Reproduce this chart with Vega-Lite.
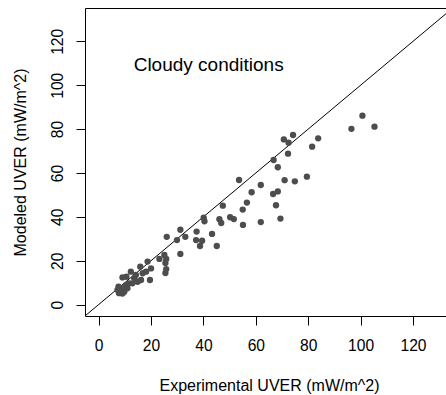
{
  "$schema": "https://vega.github.io/schema/vega-lite/v6.json",
  "autosize": {"type": "none"},
  "padding": {"left": 85, "top": 8, "right": 0, "bottom": 79},
  "width": 361,
  "height": 308,
  "background": "white",
  "config": {
    "view": {"stroke": null},
    "font": "Liberation Sans",
    "axis": {
      "domainColor": "black",
      "tickColor": "black",
      "labelColor": "black",
      "titleColor": "black",
      "labelFont": "Liberation Sans",
      "titleFont": "Liberation Sans",
      "labelFontSize": 15.6,
      "titleFontSize": 16,
      "titleFontWeight": "normal",
      "tickSize": 9,
      "grid": false
    }
  },
  "datasets": {
    "pts": [
      {"exp": 100.7, "mod": 86.1}, {"exp": 96.5, "mod": 80.1}, {"exp": 105.3, "mod": 81.1},
      {"exp": 70.7, "mod": 75.3}, {"exp": 74.2, "mod": 77.3}, {"exp": 72.5, "mod": 73.8},
      {"exp": 83.8, "mod": 75.8}, {"exp": 81.5, "mod": 72.0}, {"exp": 72.3, "mod": 68.8},
      {"exp": 66.8, "mod": 65.9}, {"exp": 68.4, "mod": 62.6}, {"exp": 53.6, "mod": 56.8},
      {"exp": 61.9, "mod": 54.5}, {"exp": 71.0, "mod": 56.7}, {"exp": 74.9, "mod": 56.2},
      {"exp": 79.5, "mod": 58.3}, {"exp": 58.4, "mod": 51.2}, {"exp": 66.6, "mod": 50.4},
      {"exp": 68.4, "mod": 51.6}, {"exp": 47.4, "mod": 45.1}, {"exp": 56.6, "mod": 46.5},
      {"exp": 55.0, "mod": 43.3}, {"exp": 67.7, "mod": 45.3}, {"exp": 40.1, "mod": 39.6},
      {"exp": 40.4, "mod": 38.0}, {"exp": 46.1, "mod": 38.9}, {"exp": 46.8, "mod": 37.2},
      {"exp": 50.2, "mod": 39.8}, {"exp": 51.6, "mod": 39.0}, {"exp": 69.4, "mod": 39.2},
      {"exp": 55.1, "mod": 36.3}, {"exp": 61.9, "mod": 37.6}, {"exp": 31.2, "mod": 34.1},
      {"exp": 37.4, "mod": 33.3}, {"exp": 26.0, "mod": 30.9}, {"exp": 29.9, "mod": 29.4},
      {"exp": 33.1, "mod": 30.9}, {"exp": 37.2, "mod": 29.4}, {"exp": 39.5, "mod": 29.1},
      {"exp": 38.7, "mod": 26.7}, {"exp": 43.3, "mod": 32.2}, {"exp": 45.1, "mod": 26.7},
      {"exp": 31.2, "mod": 23.1}, {"exp": 25.1, "mod": 22.6}, {"exp": 23.2, "mod": 20.8},
      {"exp": 25.8, "mod": 20.8}, {"exp": 25.5, "mod": 19.0}, {"exp": 25.8, "mod": 16.2},
      {"exp": 25.5, "mod": 14.4}, {"exp": 18.7, "mod": 19.6}, {"exp": 20.0, "mod": 16.5},
      {"exp": 15.9, "mod": 17.3}, {"exp": 12.3, "mod": 15.0}, {"exp": 9.1, "mod": 12.4},
      {"exp": 14.2, "mod": 13.5}, {"exp": 16.8, "mod": 14.3}, {"exp": 18.1, "mod": 15.0},
      {"exp": 19.6, "mod": 11.2}, {"exp": 16.2, "mod": 11.2}, {"exp": 14.9, "mod": 10.4},
      {"exp": 12.9, "mod": 9.7}, {"exp": 10.4, "mod": 8.9}, {"exp": 7.6, "mod": 8.2},
      {"exp": 9.1, "mod": 7.4}, {"exp": 7.2, "mod": 6.7}, {"exp": 7.8, "mod": 5.2},
      {"exp": 9.8, "mod": 5.9}, {"exp": 11.0, "mod": 7.4}, {"exp": 11.7, "mod": 9.7},
      {"exp": 13.6, "mod": 12.0}, {"exp": 10.6, "mod": 12.7}, {"exp": 9.1, "mod": 5.0}
    ],
    "diag": [{"exp": -10, "mod": -10}, {"exp": 140, "mod": 140}],
    "note": [{"exp": 42, "mod": 109.2, "label": "Cloudy conditions"}]
  },
  "layer": [
    {
      "data": {"name": "diag"},
      "mark": {"type": "line", "color": "black", "strokeWidth": 1, "clip": true},
      "encoding": {
        "x": {"field": "exp", "type": "quantitative", "scale": {"domain": [-5.2, 132.6], "nice": false, "zero": false},
              "axis": {"orient": "top", "labels": false, "ticks": false, "title": null, "domain": true}},
        "y": {"field": "mod", "type": "quantitative", "scale": {"domain": [-5.2, 135.2], "nice": false, "zero": false}}
      }
    },
    {
      "data": {"name": "pts"},
      "mark": {"type": "point", "filled": true, "color": "#4d4d4d", "opacity": 1, "size": 40, "clip": true},
      "encoding": {
        "x": {"field": "exp", "type": "quantitative",
              "axis": {"orient": "bottom", "values": [0, 20, 40, 60, 80, 100, 120], "title": "Experimental UVER (mW/m^2)",
                       "labelPadding": 13, "labelBaseline": "top", "titleX": 184, "titleY": 74, "titleAlign": "center", "titleBaseline": "alphabetic"}},
        "y": {"field": "mod", "type": "quantitative",
              "axis": {"values": [0, 20, 40, 60, 80, 100, 120], "title": "Modeled UVER (mW/m^2)",
                       "labelAngle": -90, "labelAlign": "center", "labelBaseline": "middle", "labelPadding": 19,
                       "titleAngle": -90, "titleX": -60, "titleY": 154, "titleAlign": "center", "titleBaseline": "alphabetic"}}
      }
    },
    {
      "data": {"name": "note"},
      "mark": {"type": "text", "fontSize": 19, "color": "black", "align": "center", "baseline": "middle", "font": "Liberation Sans"},
      "encoding": {
        "x": {"field": "exp", "type": "quantitative", "axis": null},
        "y": {"field": "mod", "type": "quantitative"},
        "text": {"field": "label"}
      }
    }
  ],
  "resolve": {"axis": {"x": "independent"}}
}
